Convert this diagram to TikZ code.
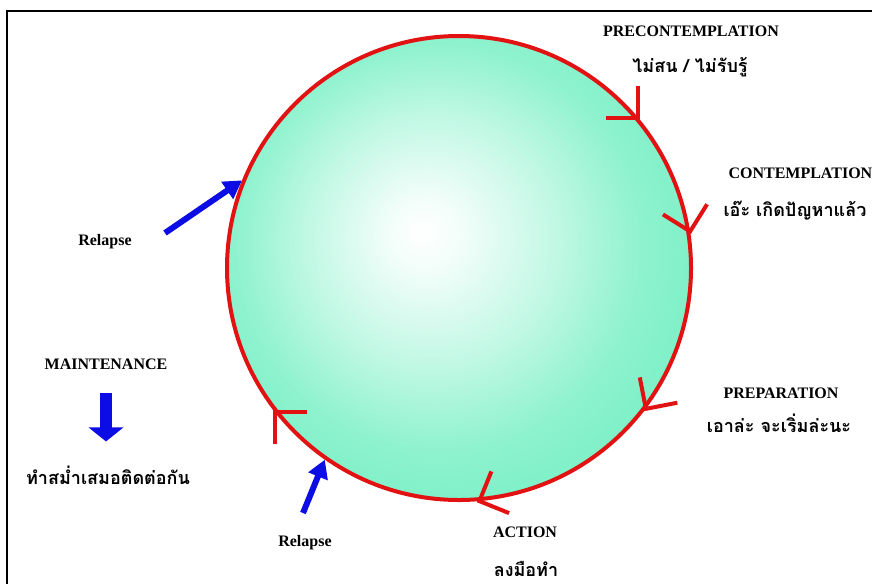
\documentclass[tikz,border=0pt]{standalone}
\usepackage{fontspec}
\setmainfont{Liberation Serif}
\newfontfamily\thaifont[Script=Thai]{Loma}
\usetikzlibrary{arrows.meta, calc}
\definecolor{cyclered}{RGB}{226,18,18}
\definecolor{relapseblue}{RGB}{12,12,228}
\definecolor{mint}{RGB}{122,240,198}
\pgfdeclareradialshading{glow}{\pgfpoint{-4bp}{4bp}}{color(0bp)=(white); color(4bp)=(mint!10!white); color(13bp)=(mint!45!white); color(22bp)=(mint!85!white); color(29bp)=(mint); color(50bp)=(mint)}

\begin{document}
\begin{tikzpicture}[
    x=1pt, y=1pt,
    stage/.style={font=\fontsize{16}{18}\selectfont\bfseries},
    thai/.style={font=\thaifont\fontsize{18}{20}\selectfont\bfseries, text height=14pt, text depth=6pt},
    chevron/.style={cyclered, line width=4pt},
    relapse/.style={relapseblue, line width=6pt, -{Triangle[length=18pt, width=20pt]}},
    holdarrow/.style={relapseblue, line width=12pt, -{Triangle[length=14pt, width=34pt]}},
]
    \useasboundingbox (0,0) rectangle (872,-584);
    \draw[line width=2pt] (7,-584) -- (7,-11) -- (872,-11);

    % the cycle
    \node[circle, draw=cyclered, line width=4pt, shading=glow, minimum size=464pt, inner sep=0pt] (cycle) at (459,-268) {};
    \foreach \a/\t in {40/5, 9/4, -37/3, -85/18, -142/7}
        \draw[chevron] ($(cycle.\a)+(\a+45+\t:32)$) -- (cycle.\a) -- ++(\a+135+\t:32);

    % stages
    \node[stage] (pre) at (691,-31) {PRECONTEMPLATION};
    \node[thai] (preth) at (690,-68) {ไม่สน / ไม่รับรู้};
    \node[stage, anchor=west] (con) at (725,-173) {CONTEMPLATION};
    \node[thai, anchor=west] (conth) at (720,-212) {เอ๊ะ เกิดปัญหาแล้ว};
    \node[stage] (prep) at (781,-393) {PREPARATION};
    \node[thai] (prepth) at (779,-428) {เอาล่ะ จะเริ่มล่ะนะ};
    \node[stage] (act) at (525,-532) {ACTION};
    \node[thai] (actth) at (526,-572) {ลงมือทำ};

    % maintenance
    \node[stage] (maint) at (106,-364) {MAINTENANCE};
    \node[thai] (maintth) at (108,-480) {ทำสม่ำเสมอติดต่อกัน};
    \draw[holdarrow, shorten <=20pt, shorten >=25pt] (maint.south) -- (maint.south |- maintth.north);

    % relapse
    \node[stage] (rel1) at (105,-242) {Relapse};
    \node[stage] (rel2) at (305,-543) {Relapse};
    \coordinate (r1) at (165,-233);
    \coordinate (r2) at (303,-513);
    \draw[relapse] (r1) -- (cycle.158);
    \draw[relapse] (r2) -- (cycle.235);
\end{tikzpicture}
\end{document}
